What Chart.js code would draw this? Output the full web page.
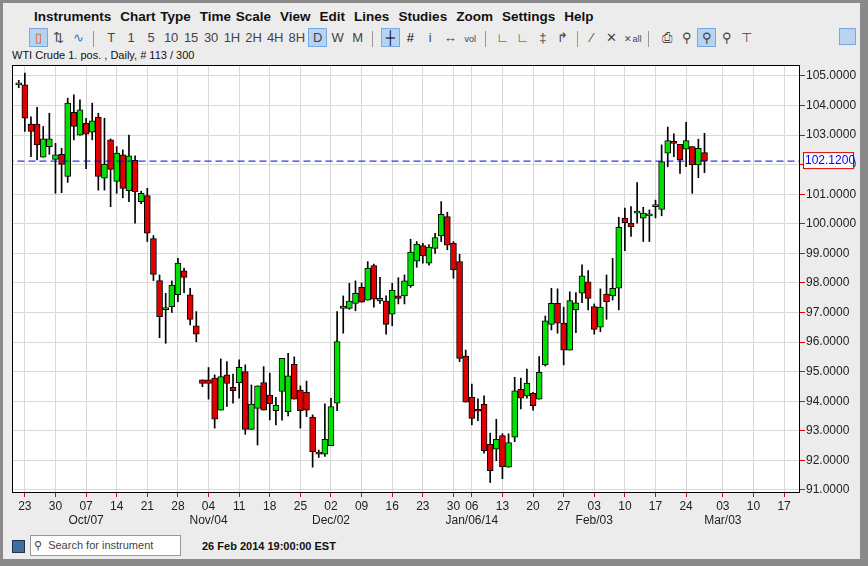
<!DOCTYPE html>
<html>
<head>
<meta charset="utf-8">
<script src="https://cdn.jsdelivr.net/npm/chart.js@4"></script>
<style>
  body { margin: 0; width: 868px; height: 566px; background: #8a8a8a; font-family: "Liberation Sans", Arial, sans-serif; overflow: hidden; }
  #win { position: absolute; left: 3px; top: 3px; width: 857px; height: 556px; background: #ececec; }
  #menu { position: absolute; left: 31px; top: 6px; font-size: 13.5px; font-weight: bold; color: #111; word-spacing: 1px; }
  #menu span { margin-right: 9px; }
  #tools { position: absolute; left: 26px; top: 25px; height: 22px; font-size: 13px; color: #444; white-space: nowrap; }
  #tools span { display: inline-block; text-align: center; min-width: 15px; padding: 2px 2px; margin-right: 1px; }
  #tools .on { background: #b6d3f2; border: 1px solid #79a8dc; padding: 1px 1px; }
  #tools .sep { border-left: 1px solid #999; height: 16px; min-width: 0; padding: 0; margin: 0 4px; vertical-align: middle; }
  #title { position: absolute; left: 9px; top: 46px; font-size: 11px; color: #111; }
  #chartbox { position: absolute; left: 7px; top: 59px; width: 850px; height: 465px; }
  #status { position: absolute; left: 0; top: 528px; width: 857px; height: 28px; }
  #sq { position: absolute; left: 9px; top: 9px; width: 11px; height: 11px; background: #3c6ea8; border: 1px solid #234; }
  #search { position: absolute; left: 27px; top: 4px; width: 149px; height: 19px; background: #fff; border: 1px solid #999; font-size: 11px; color: #444; line-height: 19px; }
  #when { position: absolute; left: 199px; top: 9px; font-size: 11px; font-weight: bold; color: #111; }
  #corner { position: absolute; left: 836px; top: 25px; width: 15px; height: 15px; background: #b6d3f2; border: 1px solid #79a8dc; }
</style>
</head>
<body>
<div id="win">
  <div id="menu"><span>Instruments</span><span>Chart Type</span><span>Time Scale</span><span>View</span><span>Edit</span><span>Lines</span><span>Studies</span><span>Zoom</span><span>Settings</span><span>Help</span></div>
  <div id="tools">
    <span class="on" style="color:#e05a10">&#9647;</span><span>&#8645;</span><span style="color:#3a6fc0">&#8767;</span><span class="sep"></span>
    <span>T</span><span>1</span><span>5</span><span>10</span><span>15</span><span>30</span><span>1H</span><span>2H</span><span>4H</span><span>8H</span><span class="on">D</span><span>W</span><span>M</span><span class="sep"></span>
    <span class="on" style="color:#000">&#9532;</span><span style="color:#000">#</span><span>i</span><span>&#8596;</span><span style="font-size:9px">vol</span><span class="sep"></span>
    <span>&#8735;</span><span>&#8735;</span><span>&#8225;</span><span>&#8625;</span><span class="sep"></span><span>&#8725;</span><span>&#10005;</span><span style="font-size:9px">&#10005;all</span><span class="sep"></span>
    <span>&#9113;</span><span>&#9906;</span><span class="on">&#9906;</span><span>&#9906;</span><span>&#8868;</span>
  </div>
  <div id="corner"></div>
  <div id="title">WTI Crude 1. pos. , Daily, # 113 / 300</div>
  <div id="chartbox"><canvas id="c" width="850" height="465"></canvas></div>
  <div id="status">
    <div id="sq"></div>
    <div id="search">&nbsp;&#9906;&nbsp; Search for instrument</div>
    <div id="when">26 Feb 2014 19:00:00 EST</div>
  </div>
</div>
<script>
// trading-day slot index of each candle
const slots = [];
for (let i = 0; i <= 112; i++) slots.push(i);

const opens = [104.7,104.7,103.37,103.37,102.25,102.61,102.18,102.35,101.6,103.77,103.0,103.4,103.1,103.6,101.54,102.84,101.43,102.33,101.12,102.15,100.75,100.95,
  99.5,98.08,97.1,97.2,97.6,98.41,97.6,96.55,94.72,94.72,94.78,93.7,94.89,94.47,94.63,95.0,93.05,93.76,94.63,94.21,93.68,94.33,93.65,95.25,94.38,
  94.31,93.46,92.27,92.21,92.5,93.93,97.14,97.14,97.31,97.85,97.42,98.59,97.39,97.39,96.94,97.56,97.56,97.91,98.74,99.26,98.67,99.17,99.59,100.24,99.34,
  98.72,95.53,94.13,93.7,93.9,92.54,92.38,92.84,91.77,92.78,94.4,94.18,94.27,94.07,95.23,96.6,97.31,96.64,95.73,
  97.09,97.65,98.04,97.2,96.5,97.62,97.56,97.82,100.19,100.02,100.36,100.19,100.27,100.58,100.49,102.39,102.78,102.69,102.52,102.61,101.99,102.41];
const highs = [104.85,105.1,103.62,103.94,103.29,103.74,102.72,102.55,104.25,104.36,104.19,103.57,104.08,103.74,103.57,102.87,102.61,102.5,103.0,102.3,101.1,101.2,
  99.6,98.27,97.65,98.07,98.83,98.5,97.82,97.03,94.72,95.14,94.89,95.43,95.34,94.92,95.4,95.23,94.55,94.52,95.17,94.95,94.13,95.45,95.62,95.5,94.52,
  94.68,93.54,92.35,93.91,94.1,97.03,97.56,97.99,98.07,98.0,98.72,98.64,98.19,97.56,97.99,98.18,98.27,99.48,99.4,99.34,99.3,99.68,100.75,100.39,99.4,
  98.97,95.73,94.58,94.08,94.18,92.92,93.39,92.9,92.9,94.81,94.78,95.09,94.3,95.51,96.88,97.82,97.8,97.18,97.7,
  97.67,98.61,98.42,97.29,97.8,98.27,98.83,100.22,100.53,100.58,101.39,100.56,100.47,100.8,102.67,103.27,103.04,102.69,103.43,102.61,102.86,103.06];
const lows = [104.6,103.12,102.27,102.16,102.25,102.35,101.03,101.05,101.4,102.84,103.0,101.86,102.84,101.14,101.14,100.58,101.03,100.88,100.75,100.02,100.68,99.4,
  98.08,96.15,95.96,97.0,97.37,97.67,96.58,96.01,94.49,94.07,93.09,93.7,93.82,93.93,94.1,92.88,93.05,92.52,93.7,93.37,93.2,93.36,93.5,94.07,93.09,
  93.48,91.77,92.1,92.13,92.5,93.68,96.3,97.11,97.06,97.35,97.42,97.18,97.31,96.27,96.55,97.29,97.29,97.85,98.53,98.67,98.6,99.0,99.4,99.12,98.16,
  95.34,93.97,93.2,93.34,92.24,91.25,91.99,91.38,91.77,92.63,93.74,94.1,93.7,94.07,95.19,96.41,96.3,95.23,95.73,
  96.32,97.33,97.09,96.27,96.35,96.77,97.42,97.09,99.09,99.57,100.02,99.4,99.4,100.2,100.27,101.93,102.27,101.7,101.93,101.03,101.56,101.73];
const closes = [104.7,103.57,103.12,102.67,102.87,102.87,102.33,102.01,104.08,103.29,103.85,103.03,103.48,101.6,102.02,101.84,102.39,101.2,102.3,101.09,101.03,99.68,
  98.29,96.86,97.14,97.93,98.67,98.19,96.77,96.27,94.6,94.6,93.39,94.83,94.6,94.36,95.15,93.05,93.9,94.52,93.7,93.91,93.87,95.45,94.86,94.07,93.68,
  93.7,92.29,92.21,92.71,93.82,96.02,97.22,97.39,97.65,97.35,98.5,97.45,97.48,96.6,97.76,97.48,98.07,99.04,99.31,98.91,99.21,99.53,100.32,99.28,98.44,
  95.45,93.97,93.42,93.66,92.33,91.65,92.71,91.79,92.6,94.35,94.1,94.61,93.85,94.98,96.72,97.31,96.64,95.73,97.4,
  97.33,98.24,97.48,96.43,97.18,97.37,97.82,99.88,100.04,99.9,100.36,100.36,100.27,100.58,102.1,102.81,102.72,102.16,102.81,101.99,102.55,102.12];

const lastPrice = 102.12;
const yTicks = [91, 92, 93, 94, 95, 96, 97, 98, 99, 100, 101, 102, 103, 104, 105];
const xTickSlots = [1, 6, 11, 16, 21, 26, 31, 36, 41, 46, 51, 56, 61, 66, 71, 74, 79, 84, 89, 94, 99, 104, 109, 115, 120, 125];
const xTickDays = ['23','30','07','14','21','28','04','11','18','25','02','09','16','23','30','06','13','20','27','03','10','17','24','03','10','17'];
const xTickMonths = ['','','Oct/07','','','','Nov/04','','','','Dec/02','','','','','Jan/06/14','','','','Feb/03','','','','Mar/03','',''];

const wicks = slots.map((s, i) => ({ x: s, y: [lows[i], highs[i]] }));
const bodies = slots.map((s, i) => ({ x: s, y: [opens[i], closes[i]] }));
const bodyColors = slots.map((s, i) => closes[i] >= opens[i] ? '#00e000' : '#e00000');

const frame = {
  id: 'frame',
  beforeDraw(chart) {
    const { ctx, chartArea: a } = chart;
    ctx.save();
    ctx.fillStyle = '#fff';
    ctx.fillRect(a.left, a.top, a.right - a.left, a.bottom - a.top);
    ctx.restore();
  },
  afterDraw(chart) {
    const { ctx, chartArea: a } = chart;
    ctx.save();
    ctx.strokeStyle = '#000';
    ctx.lineWidth = 1;
    ctx.strokeRect(a.left + 0.5, a.top + 0.5, a.right - a.left - 1, a.bottom - a.top);
    // last price tag
    const y = chart.scales.y.getPixelForValue(lastPrice);
    ctx.fillStyle = '#fff';
    ctx.fillRect(a.right + 3, y - 8, 50, 16);
    ctx.strokeStyle = '#e00000';
    ctx.strokeRect(a.right + 3.5, y - 8.5, 50, 16);
    ctx.fillStyle = '#0000ff';
    ctx.font = '12px "Liberation Sans", Arial';
    ctx.textBaseline = 'middle';
    ctx.fillText(lastPrice.toFixed(4), a.right + 5, y);
    ctx.restore();
  }
};

new Chart(document.getElementById('c'), {
  type: 'bar',
  data: {
    datasets: [
      {
        type: 'line',
        data: [{ x: -2, y: lastPrice }, { x: 130, y: lastPrice }],
        borderColor: '#0000ee',
        borderWidth: 1,
        borderDash: [7, 4],
        pointRadius: 0,
        order: 0
      },
      {
        data: wicks,
        backgroundColor: '#000',
        barThickness: 1,
        grouped: false,
        order: 2
      },
      {
        data: bodies,
        backgroundColor: bodyColors,
        borderColor: '#000',
        borderWidth: 1,
        borderSkipped: false,
        barThickness: 6,
        minBarLength: 2,
        grouped: false,
        order: 1
      }
    ]
  },
  options: {
    responsive: false,
    animation: false,
    devicePixelRatio: 1,
    layout: { padding: { left: 2, top: 3, right: 0, bottom: 0 } },
    plugins: { legend: { display: false }, tooltip: { enabled: false } },
    scales: {
      x: {
        type: 'linear',
        offset: false,
        min: -1.1,
        max: 127.6,
        afterBuildTicks(scale) {
          scale.ticks = xTickSlots.map(v => ({ value: v }));
        },
        afterFit(scale) {
          scale.height = 35;
          scale.paddingLeft = 0;
          scale.paddingRight = 0;
        },
        grid: { color: '#d9d9d9', tickColor: '#e00000', tickLength: 5, drawOnChartArea: true, offset: false },
        border: { display: false },
        ticks: {
          autoSkip: false,
          maxRotation: 0,
          padding: 2,
          color: '#222',
          font: { family: '"Liberation Sans", Arial', size: 12 },
          callback(v, i) {
            return xTickMonths[i] ? [xTickDays[i], xTickMonths[i]] : [xTickDays[i], ''];
          }
        }
      },
      y: {
        position: 'right',
        min: 90.93,
        max: 105.37,
        afterBuildTicks(scale) {
          scale.ticks = yTicks.map(v => ({ value: v }));
        },
        afterFit(scale) {
          scale.width = 60;
          scale.paddingTop = 0;
          scale.paddingBottom = 0;
        },
        grid: { color: '#d9d9d9', tickColor: '#e00000', tickLength: 5 },
        border: { display: false },
        ticks: {
          padding: 1,
          color: '#222',
          font: { family: '"Liberation Sans", Arial', size: 12 },
          callback: v => v.toFixed(4)
        }
      }
    }
  },
  plugins: [frame]
});
</script>
</body>
</html>
